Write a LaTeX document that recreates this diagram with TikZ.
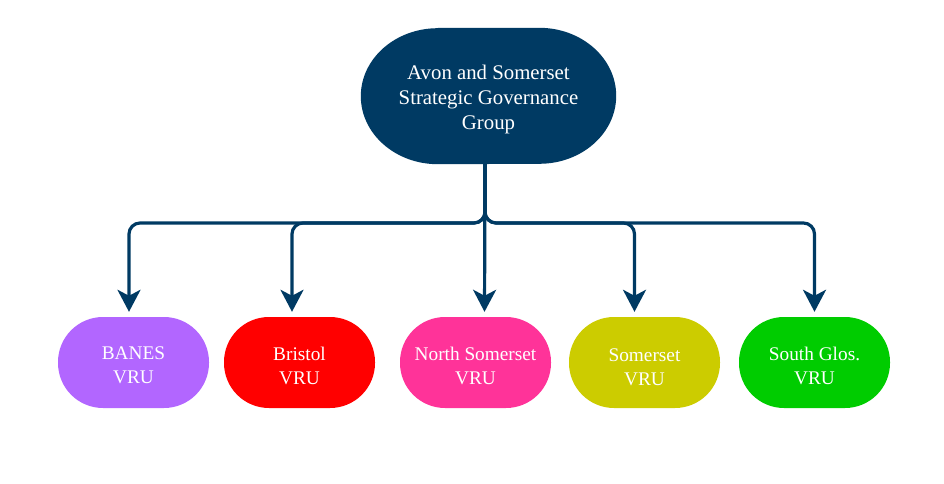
\documentclass[tikz,border=0pt]{standalone}
\usepackage{fontspec}
\setmainfont{Liberation Serif}
\usetikzlibrary{arrows.meta,backgrounds}
\definecolor{navy}{HTML}{003A63}
\definecolor{banes}{HTML}{B266FF}
\definecolor{bristol}{HTML}{FF0000}
\definecolor{nsom}{HTML}{FF3399}
\definecolor{som}{HTML}{CCCC00}
\definecolor{sglos}{HTML}{00CC00}
\begin{document}
\begin{tikzpicture}[x=1pt,y=-1pt,
  topbox/.style={minimum width=255pt, minimum height=136pt, inner sep=0pt},
  toptext/.style={text=white, align=center, font=\fontsize{20.8}{25}\selectfont, inner sep=0pt, yshift=-3.5pt},
  vrubox/.style={rounded corners=45pt, minimum width=151pt, minimum height=91pt, inner sep=0pt},
  vrutext/.style={text=white, align=center, font=\fontsize{19.3}{24}\selectfont, inner sep=0pt, yshift=-3pt},
  conn/.style={draw=navy, line width=3.2pt, rounded corners=11pt, shorten >=5pt, -{Stealth[length=22pt,width=23pt,inset=6pt]}}
]
\useasboundingbox (0,0) rectangle (944,484);
\node[topbox, label={[toptext]center:Avon and Somerset\\Strategic Governance\\Group}] (top) at (488.5,96) {};
\begin{scope}[on background layer]
\fill[navy] ([xshift=77pt]top.north west) -- ([xshift=-77pt]top.north east)
  arc[start angle=90, end angle=0, x radius=77pt, y radius=68pt]
  arc[start angle=0, end angle=-90, x radius=77pt, y radius=68pt]
  -- ([xshift=77pt]top.south west)
  arc[start angle=270, end angle=180, x radius=77pt, y radius=68pt]
  arc[start angle=180, end angle=90, x radius=77pt, y radius=68pt] -- cycle;
\end{scope}
\node[vrubox, fill=banes, label={[vrutext]center:BANES\\VRU}] (banes) at (133.5,362.5) {};
\node[vrubox, fill=bristol, label={[vrutext]center:Bristol\\VRU}] (bristol) at (299.5,362.5) {};
\node[vrubox, fill=nsom, label={[vrutext]center:North Somerset\\VRU}] (nsom) at (475.5,362.5) {};
\node[vrubox, fill=som, label={[vrutext, yshift=-2pt]center:Somerset\\VRU}] (som) at (644.5,362.5) {};
\node[vrubox, fill=sglos, label={[vrutext]center:South Glos.\\VRU}] (sglos) at (814.5,362.5) {};
\coordinate (s) at ([xshift=-3.5pt]top.south);
\coordinate (h) at (s |- 0,223);
\draw[conn] (s) -- (h) -| ([xshift=-4.5pt]banes.north);
\draw[conn] (s) -- (h) -| ([xshift=-7.5pt]bristol.north);
\draw[conn] (s) -- ([xshift=9pt]nsom.north);
\draw[conn] (s) -- (h) -| ([xshift=-10pt]som.north);
\draw[conn] (s) -- (h) -| (sglos.north);
\end{tikzpicture}
\end{document}
